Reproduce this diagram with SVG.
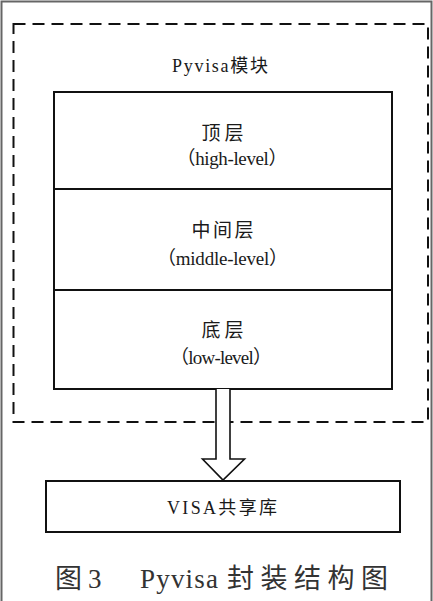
<svg xmlns="http://www.w3.org/2000/svg" width="433" height="601" viewBox="0 0 433 601">
<style>
.box{fill:#fff;stroke:#111;stroke-width:2}
.frame{fill:none;stroke:#666;stroke-width:2}
.dash{fill:none;stroke:#111;stroke-width:2;stroke-dasharray:12 7}
.conn{fill:#fff;stroke:#111;stroke-width:1.6;stroke-linejoin:miter}
</style>
<rect width="433" height="601" fill="#fff"/>
<path class="frame" d="M1.5,601 V1.5 H431.5 V601"/>
<g font-family="'Liberation Serif', 'Noto Sans CJK SC', serif" fill="#1a1a1a" text-anchor="middle">
<g id="pyvisa-module">
<rect class="dash" x="13.5" y="24" width="414.5" height="398"/>
<text x="220" y="72" font-size="18" textLength="96" lengthAdjust="spacing">Pyvisa模块</text>
</g>
<g id="high-level">
<rect class="box" x="54" y="92" width="338" height="97"/>
<text x="222.5" y="140" font-size="19" textLength="42" lengthAdjust="spacing">顶层</text>
<text x="232" y="165" font-size="19" textLength="111" lengthAdjust="spacing">（high-level）</text>
</g>
<g id="middle-level">
<rect class="box" x="54" y="189" width="338" height="101"/>
<text x="222.5" y="237" font-size="19" textLength="62" lengthAdjust="spacing">中间层</text>
<text x="222.5" y="265" font-size="19" textLength="131" lengthAdjust="spacing">（middle-level）</text>
</g>
<g id="low-level">
<rect class="box" x="54" y="290" width="338" height="99"/>
<text x="222.5" y="337" font-size="19" textLength="42" lengthAdjust="spacing">底层</text>
<text x="221" y="364" font-size="19" textLength="102" lengthAdjust="spacing">（low-level）</text>
</g>
<g id="connectors">
<path class="conn" d="M216,389 V459 H202.5 L223,480 L244.5,459 H230 V389"/>
</g>
<g id="visa">
<rect class="box" x="46" y="481" width="354" height="51"/>
<text x="222" y="514" font-size="18" textLength="110" lengthAdjust="spacing">VISA共享库</text>
</g>
<g id="caption" fill="#333" text-anchor="start" font-size="27">
<text x="55" y="588">图</text>
<text x="88" y="588">3</text>
<text x="140" y="588" textLength="78" lengthAdjust="spacing">Pyvisa</text>
<text x="227" y="588" textLength="161" lengthAdjust="spacing">封装结构图</text>
</g>
</g>
</svg>
